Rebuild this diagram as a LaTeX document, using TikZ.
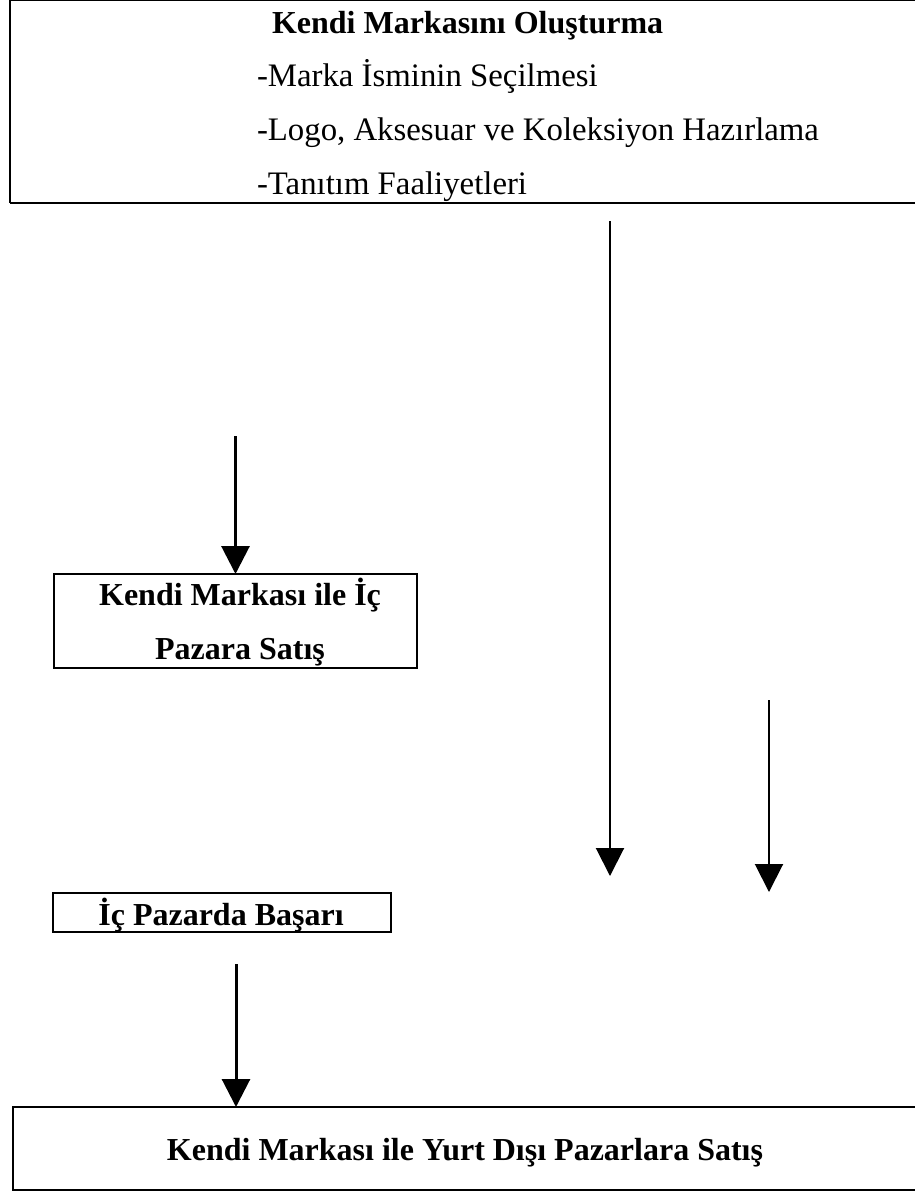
\documentclass[tikz,border=0pt]{standalone}
\usepackage{fontspec}
\setmainfont{Liberation Serif}
\usetikzlibrary{arrows.meta}
\begin{document}
\begin{tikzpicture}[x=0.375pt,y=-0.375pt,
  area/.style={draw=none, inner sep=0pt, outer sep=0pt},
  framebox/.style={draw=black, line width=0.75pt, inner sep=0pt, outer sep=0pt},
  txt/.style={inner sep=0pt, outer sep=0pt, font=\fontsize{12.3}{14}\selectfont},
  btxt/.style={inner sep=0pt, outer sep=0pt, font=\fontsize{12}{14}\selectfont\bfseries},
  heavyarrow/.style={line width=1.125pt, -{Triangle[length=10.5pt,width=10.5pt]}},
  lightarrow/.style={line width=0.75pt, -{Triangle[length=10.5pt,width=10.5pt]}},
]
\useasboundingbox (0,0) rectangle (915,1191);

% top panel: brand creation (open on the right)
\node[area, minimum width={905*0.375pt}, minimum height={203*0.375pt}] (brand) at (462.5,101.5) {};
\draw[line width=0.55pt] (brand.north east) -- (brand.north west) -- (brand.south west);
\draw[line width=1.1pt] (brand.south west) -- (brand.south east);
\node[btxt, anchor=base west] (title) at (272,33) {Kendi Markasını Oluşturma};
\node[txt, anchor=base west] (item1) at (257,86) {-Marka İsminin Seçilmesi};
\node[txt, anchor=base west] (item2) at (257,140) {-Logo, Aksesuar ve Koleksiyon Hazırlama};
\node[txt, anchor=base west] (item3) at (257,194) {-Tanıtım Faaliyetleri};

% domestic sales box
\node[framebox, minimum width={363*0.375pt}, minimum height={94*0.375pt}] (home) at (235.5,621) {};
\node[btxt, anchor=base] (home1) at (240,605) {Kendi Markası ile İç};
\node[btxt, anchor=base] (home2) at (240,659) {Pazara Satış};

% domestic success box
\node[framebox, minimum width={338*0.375pt}, minimum height={39*0.375pt}] (success) at (221.7,912.5) {};
\node[btxt, anchor=base] (success1) at (221,925) {İç Pazarda Başarı};

% export box (open on the right)
\node[area, minimum width={902*0.375pt}, minimum height={83*0.375pt}] (export) at (464,1148.5) {};
\draw[line width=0.9pt] (export.south east) -- (export.south west) -- (export.north west) -- (export.north east);
\node[btxt, anchor=base] (export1) at (465,1160) {Kendi Markası ile Yurt Dışı Pazarlara Satış};

% connectors
\coordinate (a1) at (235.5,436);
\draw[heavyarrow] (a1) -- (a1 |- home.north);

\coordinate (a2) at (610,221);
\coordinate (a2end) at (610,876);
\draw[lightarrow] (a2) -- (a2end);

\coordinate (a3) at (769,700);
\coordinate (a3end) at (769,892);
\draw[lightarrow] (a3) -- (a3end);

\coordinate (a4) at (236,964);
\draw[heavyarrow] (a4) -- (a4 |- export.north);
\end{tikzpicture}
\end{document}
